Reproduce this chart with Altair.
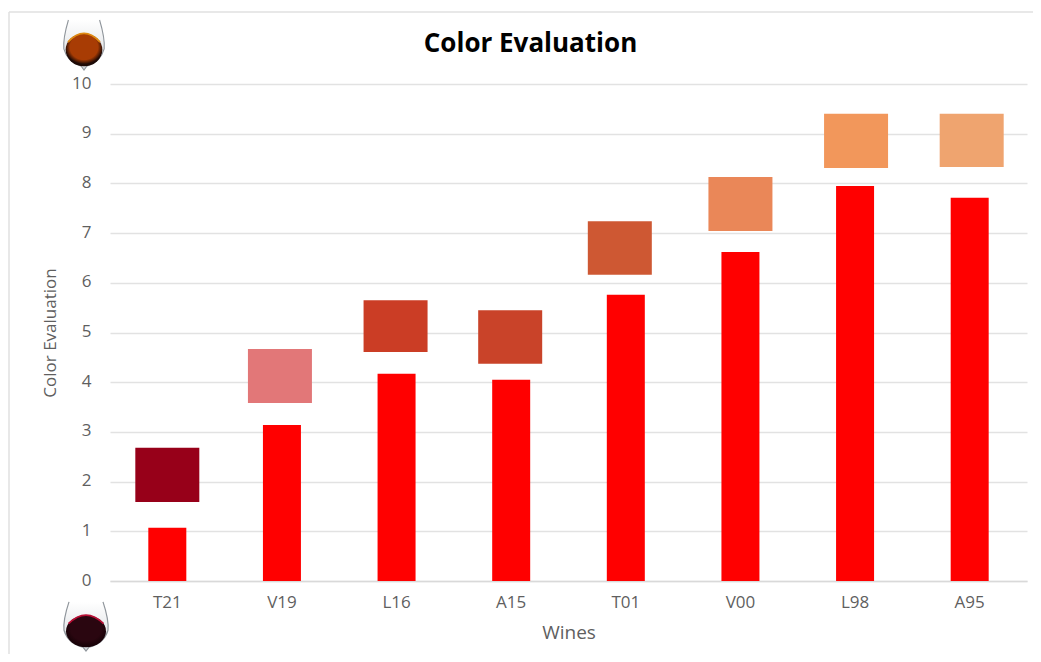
import base64
import altair as alt
import pandas as pd

wines = ["T21", "V19", "L16", "A15", "T01", "V00", "L98", "A95"]
evaluation = [1.07, 3.14, 4.17, 4.05, 5.76, 6.62, 7.95, 7.71]
swatch_low = [1.59, 3.58, 4.61, 4.37, 6.16, 7.04, 8.31, 8.33]
swatch_high = [2.68, 4.67, 5.65, 5.45, 7.24, 8.13, 9.40, 9.40]
swatch_colors = ["#970019", "#E27778", "#CB3D25", "#C94329",
                 "#CE5833", "#EA8758", "#F2975B", "#EFA46F"]

df = pd.DataFrame({"wine": wines, "evaluation": evaluation, "low": swatch_low,
                   "high": swatch_high, "color": swatch_colors})


def glass(wine_dark, wine_mid, rim):
    svg = f"""<svg xmlns='http://www.w3.org/2000/svg' width='48' height='54' viewBox='0 0 48 54' preserveAspectRatio='none'>
<defs><radialGradient id='g' cx='50%' cy='42%' r='56%'><stop offset='0%' stop-color='{wine_mid}'/>
<stop offset='68%' stop-color='{wine_mid}'/><stop offset='92%' stop-color='{wine_dark}'/><stop offset='100%' stop-color='{wine_dark}'/></radialGradient>
<linearGradient id='s' x1='0' x2='0' y1='0' y2='1'><stop offset='0%' stop-color='#ffffff'/><stop offset='100%' stop-color='#d5d8dc'/></linearGradient></defs>
<path d='M7 1 Q1 20 2 31 Q6 45 21 49 L24 53 L27 49 Q42 45 46 31 Q47 20 41 1 Z' fill='url(#s)' stroke='none'/>
<path d='M7 1 Q1 20 2 31 Q6 45 21 49 L24 53 L27 49 Q42 45 46 31 Q47 20 41 1' fill='none' stroke='#8f959b' stroke-width='1.2'/>
<ellipse cx='24' cy='32' rx='20' ry='17' fill='url(#g)'/>
<path d='M6.5 24 Q24 6 41.5 24' fill='none' stroke='{rim}' stroke-width='1.8'/>
</svg>"""
    return "data:image/svg+xml;base64," + base64.b64encode(svg.encode()).decode()


x_enc = alt.X("wine:N", sort=wines, title="Wines",
              scale=alt.Scale(paddingInner=0, paddingOuter=0),
              axis=alt.Axis(labelAngle=0, labelFont="Open Sans", labelFontSize=17,
                            labelColor="#5f5f5f", titleFont="Open Sans", titleFontSize=19,
                            titleColor="#5f5f5f", titleFontWeight="normal", ticks=False,
                            domainColor="#d9d9d9", domainWidth=1.5, labelPadding=13,
                            titlePadding=13, grid=False))
y_scale = alt.Scale(domain=[0, 10], nice=False)

bars = alt.Chart(df).mark_bar(color="#FF0000", size=38).encode(
    x=x_enc,
    y=alt.Y("evaluation:Q", scale=y_scale, title="Color Evaluation",
            axis=alt.Axis(values=list(range(11)), labelFont="Open Sans", labelFontSize=17,
                          labelColor="#5f5f5f", titleFont="Open Sans", titleFontSize=17,
                          titleColor="#5f5f5f", titleFontWeight="normal", ticks=False,
                          domain=False, gridColor="#e2e2e2", gridWidth=1.5, labelPadding=19,
                          labelOffset=-1, titlePadding=12)),
)

nudge = "({T21: 0, V19: -2, L16: -1, A15: -1, T01: -6, V00: 0, L98: 1, A95: 2})[datum.wine]"
swatches = alt.Chart(df).mark_bar(size=64, xOffset=alt.expr(nudge)).encode(
    x=alt.X("wine:N", sort=wines),
    y=alt.Y("low:Q", scale=y_scale),
    y2="high:Q",
    color=alt.Color("color:N", scale=None),
)

frame_top = alt.Chart(df.head(1)).mark_rule(color="#e0e0e0", strokeWidth=1.5).encode(
    x=alt.value(-101), x2=alt.value(1030), y=alt.value(-72))
frame_left = alt.Chart(df.head(1)).mark_rule(color="#e0e0e0", strokeWidth=1.5).encode(
    x=alt.value(-101), y=alt.value(-72), y2=alt.value(640))

top_glass = alt.Chart(df.head(1)).mark_image(
    url=glass("#1e0a06", "#a83c04", "#e08a12"), width=44, height=52, aspect=False,
    align="center", baseline="top"
).encode(x=alt.value(-26), y=alt.value(-65))
bottom_glass = alt.Chart(df.head(1)).mark_image(
    url=glass("#1a0208", "#2a0610", "#b80f35"), width=48, height=51, aspect=False,
    align="center", baseline="top"
).encode(x=alt.value(-24), y=alt.value(517))

chart = alt.layer(frame_top, frame_left, bars, swatches, top_glass, bottom_glass).resolve_scale(
    x="shared", y="shared"
).properties(
    width=917, height=497,
    title=alt.TitleParams("Color Evaluation", font="Open Sans", fontSize=26, fontWeight="bold",
                          color="#000000", anchor="middle", dx=-38, offset=-46),
    padding={"left": 102, "top": 76, "right": 6, "bottom": 73},
    autosize=alt.AutoSizeParams(type="none"),
).configure_view(stroke=None)

chart.save("out.html", embed_options={"renderer": "svg", "actions": False})
